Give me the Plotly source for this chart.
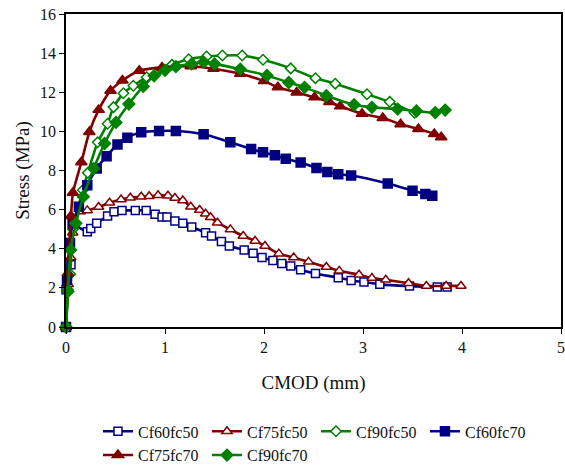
import plotly.graph_objects as go

# CMOD (mm) / stress (MPa) curves for each mix
cf60fc50_x = [0, 0.0, 0.05, 0.07, 0.215, 0.25, 0.31, 0.42, 0.485, 0.566, 0.70, 0.81, 0.90, 0.97, 1.02,
              1.10, 1.18, 1.27, 1.41, 1.47, 1.57, 1.65, 1.80, 1.89, 1.98, 2.09, 2.18, 2.27, 2.37, 2.52,
              2.75, 2.88, 3.01, 3.17, 3.47, 3.75, 3.85]
cf60fc50_y = [0, 1.9, 3.18, 5.2, 4.87, 5.03, 5.30, 5.67, 5.89, 5.96, 5.96, 5.96, 5.76, 5.62, 5.62,
              5.42, 5.30, 5.11, 4.82, 4.65, 4.37, 4.14, 3.94, 3.77, 3.55, 3.40, 3.24, 3.12, 2.93, 2.73,
              2.52, 2.38, 2.30, 2.18, 2.09, 2.05, 2.05]

cf75fc50_x = [0, 0.023, 0.048, 0.068, 0.08, 0.145, 0.215, 0.33, 0.44, 0.556, 0.65, 0.76, 0.84, 0.93,
              1.03, 1.10, 1.18, 1.26, 1.35, 1.41, 1.46, 1.53, 1.66, 1.79, 1.91, 2.01, 2.15, 2.30, 2.45,
              2.63, 2.76, 2.96, 3.09, 3.23, 3.46, 3.64, 3.84, 3.99]
cf75fc50_y = [0, 2.19, 3.55, 4.82, 5.47, 5.91, 5.96, 6.13, 6.35, 6.52, 6.61, 6.66, 6.68, 6.73,
              6.71, 6.59, 6.47, 6.15, 5.98, 5.79, 5.61, 5.33, 4.99, 4.65, 4.40, 4.14, 3.75, 3.55, 3.33,
              3.07, 2.87, 2.67, 2.50, 2.41, 2.24, 2.10, 2.10, 2.10]

cf90fc50_x = [0, 0.02, 0.043, 0.07, 0.17, 0.22, 0.32, 0.42, 0.48, 0.58, 0.68, 0.815, 0.905, 1.07,
              1.24, 1.42, 1.58, 1.78, 1.99, 2.27, 2.52, 2.72, 3.04, 3.27, 3.52]
cf90fc50_y = [0, 1.9, 2.7, 5.0, 7.0, 7.88, 9.44, 10.39, 11.24, 11.95, 12.33, 12.77, 12.93, 13.4,
              13.69, 13.83, 13.88, 13.88, 13.66, 13.22, 12.72, 12.44, 11.90, 11.51, 10.95]

cf60fc70_x = [0, 0.01, 0.04, 0.067, 0.13, 0.215, 0.31, 0.41, 0.52, 0.62, 0.76, 0.94, 1.11, 1.39, 1.66,
              1.87, 1.99, 2.11, 2.22, 2.37, 2.53, 2.64, 2.75, 2.88, 3.25, 3.50, 3.63, 3.70]
cf60fc70_y = [0, 2.4, 4.3, 5.3, 6.15, 7.24, 8.1, 8.73, 9.33, 9.68, 9.95, 10.02, 10.02, 9.85, 9.44,
              9.10, 8.93, 8.78, 8.60, 8.41, 8.13, 7.92, 7.81, 7.74, 7.33, 6.97, 6.80, 6.71]

cf75fc70_x = [0, 0.02, 0.05, 0.07, 0.155, 0.236, 0.33, 0.45, 0.57, 0.74, 0.97, 1.26, 1.49, 1.76,
              2.00, 2.14, 2.33, 2.51, 2.66, 2.77, 2.99, 3.20, 3.38, 3.56, 3.72, 3.79]
cf75fc70_y = [0, 2.75, 5.67, 6.86, 8.42, 9.97, 11.1, 12.08, 12.6, 13.1, 13.27, 13.33, 13.2, 12.94,
              12.57, 12.26, 11.99, 11.74, 11.5, 11.28, 10.9, 10.68, 10.37, 10.12, 9.87, 9.7]

cf90fc70_x = [0, 0.02, 0.047, 0.10, 0.175, 0.28, 0.39, 0.505, 0.635, 0.78, 0.89, 1.00, 1.11, 1.27,
              1.39, 1.50, 1.76, 2.03, 2.25, 2.41, 2.63, 2.91, 3.09, 3.35, 3.54, 3.73, 3.83]
cf90fc70_y = [0, 1.82, 3.94, 5.3, 6.66, 8.1, 9.38, 10.46, 11.4, 12.3, 12.84, 13.12, 13.31, 13.45,
              13.54, 13.45, 13.18, 12.86, 12.5, 12.25, 11.82, 11.36, 11.23, 11.14, 11.04, 10.96, 11.09]

NAVY = "#000080"
MAROON = "#800000"
GREEN = "#008000"
FONT = "Liberation Serif, Times New Roman, serif"

series = [
    ("Cf60fc50", cf60fc50_x, cf60fc50_y, NAVY, "square", True, 8),
    ("Cf75fc50", cf75fc50_x, cf75fc50_y, MAROON, "triangle-up", True, 9),
    ("Cf90fc50", cf90fc50_x, cf90fc50_y, GREEN, "diamond", True, 8),
    ("Cf60fc70", cf60fc70_x, cf60fc70_y, NAVY, "square", False, 9),
    ("Cf75fc70", cf75fc70_x, cf75fc70_y, MAROON, "triangle-up", False, 10),
    ("Cf90fc70", cf90fc70_x, cf90fc70_y, GREEN, "diamond", False, 9),
]

fig = go.Figure()
for name, xs, ys, color, symbol, hollow, size in series:
    fig.add_trace(go.Scatter(
        x=xs, y=ys, name=name, mode="lines+markers",
        line=dict(color=color, width=2.6, shape="spline", smoothing=0.6),
        marker=dict(symbol=symbol, size=size,
                    color="white" if hollow else color,
                    line=dict(color=color, width=1.5)),
        cliponaxis=False,
    ))

axis_common = dict(
    showgrid=False, zeroline=False, automargin=False,
    showline=True, linecolor="black", linewidth=1.5, mirror=True,
    ticks="outside", ticklen=5, tickcolor="black", tickwidth=1,
    tickfont=dict(family=FONT, size=16, color="#111"),
)

fig.update_layout(
    width=565, height=475,
    margin=dict(l=66, r=4, t=14, b=147),
    paper_bgcolor="white", plot_bgcolor="white",
    font=dict(family=FONT, size=16, color="#111"),
    xaxis=dict(range=[0, 5], dtick=1, title=dict(text="CMOD (mm)", standoff=21), **axis_common),
    yaxis=dict(range=[0, 16], dtick=2, title=dict(text="Stress (MPa)", standoff=5), **axis_common),
    legend=dict(orientation="h", x=0.505, xanchor="center", y=-0.275, yanchor="top",
                entrywidth=64, font=dict(family=FONT, size=16, color="#111"),
                tracegroupgap=0, itemwidth=30),
    showlegend=True,
)

fig.write_html("out.html")
